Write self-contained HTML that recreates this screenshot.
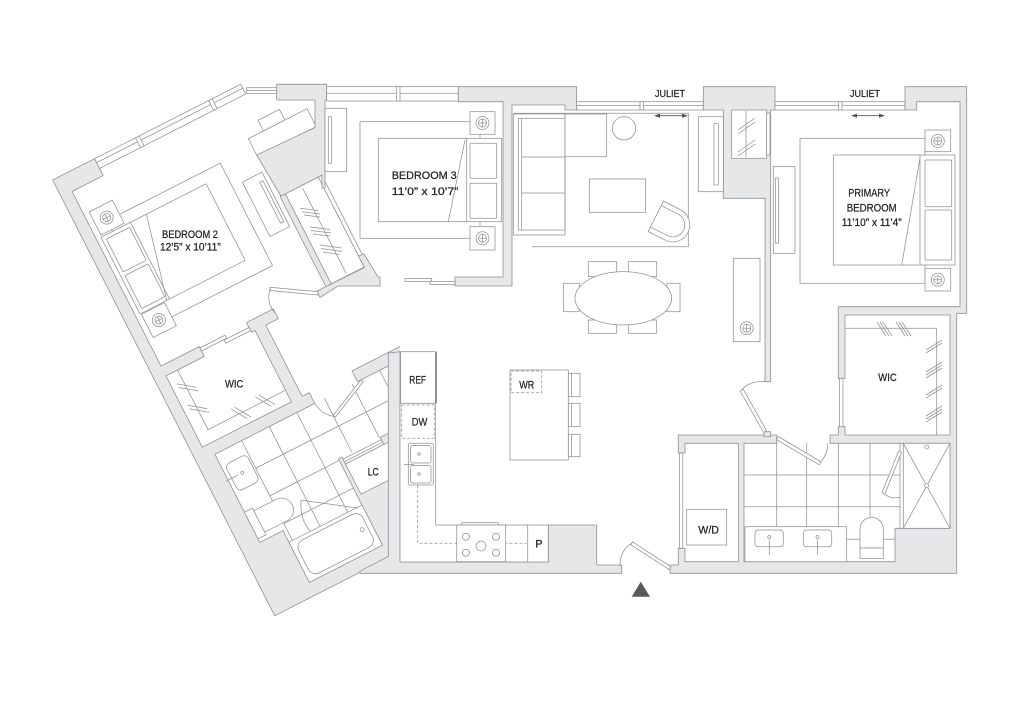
<!DOCTYPE html>
<html><head><meta charset="utf-8"><style>
html,body{margin:0;padding:0;background:#fff}
svg{display:block}
.w{fill:#e6e7e8;stroke:#8f9194;stroke-width:.8}
.f{fill:none;stroke:#8f9194;stroke-width:.75}
.fw{fill:#fff;stroke:#8f9194;stroke-width:.75}
.d{fill:none;stroke:#8f9194;stroke-width:.75;stroke-dasharray:3 2}
text{font-family:"Liberation Sans",Arial,sans-serif;font-size:11px;fill:#231f20;stroke:#231f20;stroke-width:.25}
</style></head><body>
<svg width="1024" height="706" viewBox="0 0 1024 706" xmlns="http://www.w3.org/2000/svg">
<defs>
<clipPath id="wc"><rect x="0" y="0" width="400" height="640"/></clipPath>
<g id="ns"><circle r="6.5" class="f"/><circle r="4" class="f"/><path d="M-4,0H4M0,-4V4" class="f"/></g>
</defs>
<rect width="1024" height="706" fill="#fff"/>

<!-- ===== rotated left wing ===== -->
<g clip-path="url(#wc)">
<g transform="translate(52.7,180) rotate(-27)">
<path class="f" d="M50,318V430M81,318V430M112,318V430M143,318V378M174,318V378M205,318V378M236,318V378M50,349H262M50,380H128M50,411H128"/>
<path class="w" d="M0,0H47V19H12V215H55V226H12V306H112V226H108V215H138V226H124V306H132V318H20V417H46V475H128V378H132V386H175V378H262V489H0Z"/>
<rect class="w" x="180" y="306" width="82" height="12"/>
<rect class="fw" x="47" y="0" width="164" height="11"/>
<path class="f" d="M47,4.5H211"/>
<rect class="fw" x="93" y="0" width="4" height="11"/>
<rect class="fw" x="175" y="0" width="4" height="11"/>
<rect class="fw" x="55" y="216.5" width="28" height="3.5"/>
<rect class="fw" x="80" y="220.5" width="28" height="3.5"/>
<path class="f" d="M25,226V293H112"/>
<path class="f" d="M18,238L34,250M18,242L34,254M18,262L34,274M18,266L34,278M55,285L65,301M59,285L69,301M82,285L92,301M86,285L96,301"/>
<!-- bedroom 2 -->
<rect class="f" x="30" y="61" width="127" height="115"/>
<rect class="fw" x="17" y="73" width="118" height="86"/>
<path class="f" d="M50,73V159M68,73L47,159"/>
<rect class="f" x="21" y="77" width="26" height="37" rx="1"/>
<rect class="f" x="21" y="118" width="26" height="37" rx="1"/>
<rect class="fw" x="18" y="45" width="26" height="26"/>
<use href="#ns" x="31" y="58"/>
<rect class="fw" x="18" y="160" width="26" height="26"/>
<use href="#ns" x="31" y="173"/>
<rect class="fw" x="168" y="88" width="22" height="61"/>
<rect class="f" x="183.5" y="96" width="3.5" height="46"/>
<rect class="fw" x="210" y="40" width="24" height="12"/>
<rect class="fw" x="193" y="52" width="66" height="20"/>
<rect class="w" x="195" y="118" width="6" height="101"/>
<rect class="fw" x="201" y="118" width="37" height="101"/>
<rect class="fw" x="238" y="118" width="4" height="101"/>
<path class="f" d="M219,121V216"/>
<!-- LC -->
<rect class="fw" x="132" y="386" width="130" height="34"/>
<rect class="fw" x="132" y="380.5" width="43" height="3"/>
<!-- bath fixtures -->
<rect class="fw" x="24" y="332" width="24" height="30" rx="5"/>
<circle class="f" cx="36" cy="347" r="1.5"/>
<path class="f" d="M17,347H31"/>
<rect class="fw" x="20" y="383" width="9" height="30"/>
<path class="fw" d="M29,386H54A12,12 0 0 1 54,410H29Z"/>
<rect class="fw" x="46" y="430" width="82" height="45"/>
<rect class="f" x="51" y="434" width="72" height="37" rx="8"/>
<circle class="f" cx="117" cy="452" r="2"/>
<path class="f" d="M123,431L76,398M76,398Q66,414 70,430"/>
<path class="fw" d="M184,318L143,337L144.5,339.5L185.5,320.5Z"/>
<path class="f" d="M132,318Q134,332 143,338"/>
</g>
</g>

<!-- kitchen left band + bottom -->
<polygon class="w" points="388.3,353 400,351.7 400,562 548.3,562 548.3,525 596.7,525 596.7,565 621.7,565 621.7,573.3 360,573.3 360,571.2 388.3,556.5"/>

<!-- bed2 / bed3 structure -->
<polygon class="w" points="276.7,84.3 326.7,84.3 326.7,100 325,100 325,188 322,188 321.9,175.2 280.9,196.1 256.7,155 315,127.5 315,100 276.7,100"/>
<polygon class="w" points="316.9,291.1 364.5,267.5 358.5,256 364,254 378,277 380,277 380,286 338,286 320.1,297.4"/>
<path class="f" d="M300,208.3L318.3,210.5M301.7,211.7L320,214M304,215L320,217M310,227L330,229.5M311,230.5L331,233M313,234L330,236M320,245L341.7,248M321,248.5L342,251.5M323,252L340,254.5"/>
<rect class="fw" x="246.7" y="87.7" width="30" height="5.6"/>
<path class="f" d="M246.7,90.5H276.7"/>
<path class="fw" d="M270,287.3L318.3,291.7L317.7,295L270,290.5Z"/>
<path class="f" d="M270,289Q266,303 275,313"/>

<!-- bedroom 3 -->
<rect class="fw" x="326.7" y="86.7" width="131.6" height="14.3"/>
<path class="f" d="M326.7,93.3H458.3"/>
<rect class="fw" x="396.5" y="86.7" width="3.5" height="14.3"/>
<polygon class="w" points="458.3,86.7 576.7,86.7 576.7,110 565,110 565,105 512,105 512,286 455,286 455,277 503,277 503,101.7 458.3,101.7"/>
<rect class="fw" x="405" y="278.5" width="26.7" height="3"/>
<rect class="fw" x="430" y="281.5" width="25" height="3"/>
<rect class="fw" x="325" y="108.3" width="21.7" height="63.4"/>
<rect class="f" x="328.3" y="116.7" width="3.4" height="46.6"/>
<rect class="f" x="360" y="121.7" width="120" height="116.6"/>
<rect class="fw" x="378.3" y="138.3" width="123.4" height="83.4"/>
<path class="f" d="M466.7,138.3V221.7M465,140L448.3,221.7"/>
<rect class="f" x="470" y="143.3" width="26.7" height="35" rx="1"/>
<rect class="f" x="470" y="183.3" width="26.7" height="35" rx="1"/>
<rect class="fw" x="470" y="111.7" width="25" height="22.6"/>
<use href="#ns" x="482.5" y="123"/>
<rect class="fw" x="470" y="226.7" width="25" height="23.3"/>
<use href="#ns" x="482.5" y="238.3"/>

<!-- living -->
<rect class="fw" x="576.7" y="101.7" width="126.6" height="8.3"/>
<path class="f" d="M576.7,105.5H703.3"/>
<rect class="fw" x="640" y="101.7" width="3.5" height="8.3"/>
<polygon class="w" points="703.3,86.7 775,86.7 775,110 770.7,110 770.7,381.7 765,381.7 765,198.3 723.3,198.3 723.3,110 703.3,110"/>
<rect class="fw" x="731.7" y="110" width="35" height="48.3"/>
<path class="f" d="M746,111V157M738,130L755,118M738,134L755,122M738,152L755,140M738,156L755,144"/>
<rect class="fw" x="766.7" y="113" width="3.3" height="42"/>
<path class="f" d="M531.7,246.7H688.3V113.3H513.3"/>
<rect class="fw" x="513.3" y="114" width="51.7" height="121"/>
<rect class="f" x="518.3" y="118.3" width="46.7" height="111.7"/>
<path class="f" d="M521.7,118.3V230M521.7,157H565M521.7,193H565"/>
<rect class="fw" x="565" y="114" width="41.7" height="42.7"/>
<circle class="fw" cx="624" cy="128.3" r="11.7"/>
<rect class="fw" x="589.3" y="179" width="56.4" height="33.3"/>
<g transform="translate(671,224) rotate(27)">
<path class="fw" d="M-17,-17H2A17,17 0 0 1 2,17H-17Z"/>
<path class="f" d="M-17,-12H2A12,12 0 0 1 2,12H-17"/>
</g>
<rect class="fw" x="698.3" y="116.7" width="25" height="75"/>
<rect class="f" x="714" y="123.3" width="4.3" height="61.7"/>
<path d="M656,115.7H686" stroke="#555" stroke-width=".8"/>
<polygon points="654,115.7 660,113.6 660,117.8" fill="#555"/>
<polygon points="688,115.7 682,113.6 682,117.8" fill="#555"/>
<!-- dining -->
<rect class="fw" x="588.3" y="261.7" width="28.4" height="15"/>
<rect class="fw" x="628.3" y="261.7" width="28.4" height="15"/>
<rect class="fw" x="588.3" y="320" width="28.4" height="13.3"/>
<rect class="fw" x="628.3" y="320" width="28.4" height="13.3"/>
<rect class="fw" x="563.3" y="283.3" width="16" height="28.4"/>
<rect class="fw" x="667" y="283.3" width="13" height="28.4"/>
<ellipse class="fw" cx="623.3" cy="298.3" rx="48.3" ry="26.7"/>
<rect class="fw" x="733.3" y="258.3" width="26.7" height="83.4"/>
<use href="#ns" x="746.7" y="328.3"/>

<!-- kitchen -->
<path class="fw" d="M400,403.3H435.7V525H548.3V562H400Z"/>
<rect class="fw" x="400.7" y="351.7" width="35" height="51.6"/>
<path d="M436,351.7V403.3" stroke="#8f9194" stroke-width="2"/>
<rect class="d" x="401.7" y="405" width="32.6" height="33.3"/>
<path class="d" d="M417.7,485V543.3H526.7"/>
<rect class="fw" x="408.3" y="443.3" width="25" height="41.7" rx="2"/>
<rect class="f" x="410.5" y="445.5" width="20.5" height="17.5" rx="2"/>
<rect class="f" x="410.5" y="465.5" width="20.5" height="17.5" rx="2"/>
<circle class="f" cx="419" cy="454" r="1.3"/><circle class="f" cx="419" cy="474" r="1.3"/>
<path class="f" d="M404,464.5H414"/>
<rect class="fw" x="461.7" y="522.7" width="36.6" height="2.3"/>
<rect class="fw" x="456.7" y="525" width="49" height="36.7"/>
<circle class="f" cx="466" cy="536.7" r="3.5"/><circle class="f" cx="496" cy="536.7" r="3.5"/>
<circle class="f" cx="466" cy="552.7" r="3.5"/><circle class="f" cx="496" cy="552.7" r="3.5"/>
<circle class="f" cx="481" cy="546" r="5"/>
<path class="f" d="M527.7,525V562"/>
<rect class="fw" x="568.3" y="373.3" width="11.7" height="23.4"/>
<rect class="fw" x="568.3" y="403.3" width="11.7" height="23.4"/>
<rect class="fw" x="568.3" y="434.3" width="11.7" height="22.4"/>
<path class="f" d="M571.5,373.3V396.7M571.5,403.3V426.7M571.5,434.3V456.7"/>
<rect class="fw" x="510" y="370" width="58.3" height="90"/>
<rect class="d" x="511" y="371" width="30.7" height="21.7"/>

<!-- primary -->
<rect class="fw" x="775" y="101.7" width="130" height="8.3"/>
<path class="f" d="M775,105.5H905"/>
<rect class="fw" x="838.5" y="101.7" width="3.5" height="8.3"/>
<path d="M853,115.7H883" stroke="#555" stroke-width=".8"/>
<polygon points="851,115.7 857,113.6 857,117.8" fill="#555"/>
<polygon points="885,115.7 879,113.6 879,117.8" fill="#555"/>
<polygon class="w" points="830,435 838.3,435 838.3,426.7 845,426.7 845,435 950,435 950,315 845,315 845,378.3 838.3,378.3 838.3,306.7 960,306.7 960,101.7 916.7,101.7 916.7,110 905,110 905,86.7 966.7,86.7 966.7,313.3 956.7,313.3 956.7,573.3 670,573.3 670,565 678.3,565 678.3,548.3 685,548.3 685,561.7 738.3,561.7 738.3,443.3 685,443.3 685,453 678.3,453 678.3,435 776.7,435 776.7,443.3 744,443.3 744,561.7 895,561.7 895,528.3 950,528.3 950,443.3 830,443.3"/>
<rect class="w" x="764" y="431.7" width="6.7" height="5"/>
<rect class="fw" x="773.3" y="166.7" width="21.7" height="86.6"/>
<rect class="f" x="775.5" y="178" width="3" height="65"/>
<rect class="f" x="800" y="138.3" width="125" height="145"/>
<rect class="fw" x="833.3" y="155" width="121.7" height="110"/>
<path class="f" d="M920,155V265M920,158.3L901.7,265"/>
<rect class="f" x="925" y="160" width="26.7" height="46.7" rx="1"/>
<rect class="f" x="925" y="210" width="26.7" height="50" rx="1"/>
<rect class="fw" x="925" y="130" width="25.7" height="21.7"/>
<use href="#ns" x="937.8" y="141"/>
<rect class="fw" x="925" y="268.3" width="25.7" height="22.7"/>
<use href="#ns" x="937.8" y="279.7"/>
<!-- primary WIC -->
<path class="f" d="M845,328.3H936.7V435"/>
<path class="f" d="M877,322L886,336M880,322L889,336M883,322L892,336M896,322L905,336M899,322L908,336M902,322L911,336M926,350L942,340M926,353L942,343M926,372L942,362M926,375L942,365M926,378L942,368M926,395L942,385M926,398L942,388M926,416L942,406M926,419L942,409M926,422L942,412"/>
<rect class="fw" x="839.5" y="378.3" width="3.5" height="48.4"/>
<!-- hall door -->
<path class="fw" d="M740.2,391L743.2,389.2L766.5,430.7L763.5,432.4Z"/>
<path class="f" d="M741.7,390Q748,381 765,381.5"/>
<!-- primary bath -->
<path class="f" d="M776.7,443.3V526.7M806.7,443.3V526.7M838.3,443.3V526.7M870,443.3V516.7M744,475H900M744,506.7H900M846.7,539.3H895"/>
<rect class="fw" x="900" y="443.3" width="3.3" height="85"/>
<rect class="fw" x="903.3" y="443.3" width="46.7" height="85"/>
<path class="f" d="M903.3,443.3L950,528.3M950,443.3L903.3,528.3"/>
<circle class="fw" cx="926.7" cy="485.8" r="2"/>
<circle class="f" cx="926.7" cy="447" r="2"/>
<path class="fw" d="M882,492.8L898.5,451.2L901.5,452.2L885,493.8Z"/>
<path class="f" d="M883.3,493.3Q892,500 900,497"/>
<rect class="fw" x="745" y="526.7" width="101.7" height="35"/>
<rect class="fw" x="755" y="530" width="28.3" height="16.7" rx="3"/>
<rect class="fw" x="803.3" y="530" width="28.4" height="16.7" rx="3"/>
<circle class="f" cx="769.3" cy="537" r="1.5"/><circle class="f" cx="817.5" cy="537" r="1.5"/>
<path class="f" d="M769.3,540V555M817.5,540V555" stroke-width="1.2"/>
<path class="fw" d="M860,548V528A11.7,11.7 0 0 1 883.3,528V548Z"/>
<rect class="fw" x="860" y="548" width="23.3" height="10.3"/>
<path class="fw" d="M778.3,436.5L821,461.8L819.2,464.8L776.7,439.8Z"/>
<path class="f" d="M820,463.3Q829,452 827,443.3"/>
<!-- laundry -->
<rect class="fw" x="679.5" y="453" width="3.3" height="95.3"/>
<rect class="fw" x="686.7" y="509.3" width="40" height="35.7"/>
<!-- entry -->
<path class="fw" d="M632.5,541.8L671,566.8L669.3,569.6L630.9,544.8Z"/>
<path class="f" d="M631.7,543.3Q620,550 620,566"/>
<polygon points="631.7,596.7 650,596.7 640.8,581.7" fill="#58595b"/>

<!-- labels -->
<text x="162" y="238" textLength="56" lengthAdjust="spacingAndGlyphs">BEDROOM 2</text>
<text x="160" y="250.5" textLength="60.7" lengthAdjust="spacingAndGlyphs">12’5” x 10’11”</text>
<text x="391.7" y="179" textLength="65" lengthAdjust="spacingAndGlyphs">BEDROOM 3</text>
<text x="391.7" y="194.8" textLength="66.6" lengthAdjust="spacingAndGlyphs">11’0” x 10’7”</text>
<text x="848.3" y="196.7" textLength="41.7" lengthAdjust="spacingAndGlyphs">PRIMARY</text>
<text x="846.7" y="211.6" textLength="50" lengthAdjust="spacingAndGlyphs">BEDROOM</text>
<text x="841.7" y="226" textLength="60" lengthAdjust="spacingAndGlyphs">11’10” x 11’4”</text>
<text x="655" y="96.8" textLength="30" lengthAdjust="spacingAndGlyphs" style="font-size:10.5px">JULIET</text>
<text x="850" y="96.8" textLength="30" lengthAdjust="spacingAndGlyphs" style="font-size:10.5px">JULIET</text>
<text x="225" y="387.4" textLength="18.3" lengthAdjust="spacingAndGlyphs">WIC</text>
<text x="878.3" y="381" textLength="18.4" lengthAdjust="spacingAndGlyphs">WIC</text>
<text x="409.3" y="383.3" textLength="16.7" lengthAdjust="spacingAndGlyphs">REF</text>
<text x="411.7" y="425.7" textLength="15.6" lengthAdjust="spacingAndGlyphs">DW</text>
<text x="519.3" y="388.3" textLength="15" lengthAdjust="spacingAndGlyphs">WR</text>
<text x="367.7" y="475.7" textLength="11" lengthAdjust="spacingAndGlyphs">LC</text>
<text x="535.3" y="547.3">P</text>
<text x="698.3" y="533.3" textLength="20.7" lengthAdjust="spacingAndGlyphs">W/D</text>
</svg>
</body></html>
